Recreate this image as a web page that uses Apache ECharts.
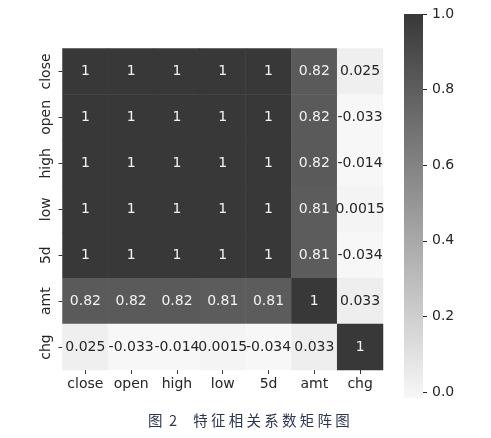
<!DOCTYPE html>
<html>
<head>
<meta charset="utf-8">
<script src="https://cdn.jsdelivr.net/npm/echarts@6/dist/echarts.min.js"></script>
<style>
  html, body { margin: 0; padding: 0; background: #fff; }
  #chart { width: 491px; height: 438px; }
</style>
</head>
<body>
<div id="chart"></div>
<script>
// feature names (same order on both axes)
var features = ["close", "open", "high", "low", "5d", "amt", "chg"];

// correlation matrix, one row per feature
var rowClose = [1, 1, 1, 1, 1, 0.82, 0.025];
var rowOpen  = [1, 1, 1, 1, 1, 0.82, -0.033];
var rowHigh  = [1, 1, 1, 1, 1, 0.82, -0.014];
var rowLow   = [1, 1, 1, 1, 1, 0.81, 0.0015];
var row5d    = [1, 1, 1, 1, 1, 0.81, -0.034];
var rowAmt   = [0.82, 0.82, 0.82, 0.81, 0.81, 1, 0.033];
var rowChg   = [0.025, -0.033, -0.014, 0.0015, -0.034, 0.033, 1];

// colorbar tick labels
var barTicks = [0.0, 0.2, 0.4, 0.6, 0.8, 1.0];

var lightColor = "#f7f7f7";
var darkColor = "#383838";

var rows = [rowClose, rowOpen, rowHigh, rowLow, row5d, rowAmt, rowChg];

var cells = [];
rows.forEach(function (row, y) {
  row.forEach(function (v, x) {
    cells.push({
      value: [x, y, v],
      label: { color: v > 0.5 ? "#f2f2f2" : "#262626" }
    });
  });
});

var myChart = echarts.init(document.getElementById("chart"));

var option = {
  backgroundColor: "#fff",
  animation: false,
  title: {
    text: "图  2     特 征 相 关 系 数 矩 阵 图",
    left: 148,
    top: 413,
    padding: 0,
    textStyle: {
      fontFamily: "Noto Sans CJK SC",
      fontSize: 14.5,
      fontWeight: "normal",
      color: "#2b3652"
    }
  },
  grid: [
    { left: 62.5, top: 48.5, width: 320.5, height: 321.5 },
    { left: 404, top: 14, width: 19, height: 378 }
  ],
  // colorbar body (visualMap itself is hidden)
  graphic: [
    {
      type: "rect",
      left: 404,
      top: 14,
      shape: { width: 19, height: 384 },
      style: {
        fill: new echarts.graphic.LinearGradient(0, 0, 0, 1, [
          { offset: 0, color: darkColor },
          { offset: 1, color: lightColor }
        ])
      },
      z: 0
    }
  ],
  xAxis: [
    {
      type: "category",
      gridIndex: 0,
      data: features,
      axisLine: { show: false },
      axisTick: { show: true, alignWithLabel: true, length: 4, lineStyle: { color: "#333" } },
      axisLabel: { interval: 0, color: "#262626", fontFamily: "DejaVu Sans", fontSize: 14, margin: 7 },
      splitLine: { show: false }
    },
    { type: "value", gridIndex: 1, show: false, min: 0, max: 1 }
  ],
  yAxis: [
    {
      type: "category",
      gridIndex: 0,
      inverse: true,
      data: features,
      axisLine: { show: false },
      axisTick: { show: true, alignWithLabel: true, length: 4, lineStyle: { color: "#333" } },
      axisLabel: { interval: 0, color: "#262626", fontFamily: "DejaVu Sans", fontSize: 14, rotate: 90, margin: 9 },
      splitLine: { show: false }
    },
    {
      type: "value",
      gridIndex: 1,
      position: "right",
      min: barTicks[0],
      max: barTicks[barTicks.length - 1],
      interval: 0.2,
      axisLine: { show: false, onZero: false },
      axisTick: { show: true, length: 4, lineStyle: { color: "#262626" } },
      axisLabel: {
        color: "#262626",
        fontFamily: "DejaVu Sans",
        fontSize: 14,
        margin: 9,
        formatter: function (v) { return v.toFixed(1); }
      },
      splitLine: { show: false }
    }
  ],
  visualMap: {
    type: "continuous",
    seriesIndex: 0,
    show: false,
    min: -0.016,
    max: 1,
    inRange: { color: [lightColor, darkColor] }
  },
  series: [
    {
      type: "heatmap",
      xAxisIndex: 0,
      yAxisIndex: 0,
      data: cells,
      label: {
        show: true,
        fontFamily: "DejaVu Sans",
        fontSize: 14,
        formatter: function (p) { return String(p.value[2]); }
      },
      itemStyle: { borderWidth: 0 },
      emphasis: { disabled: true }
    }
  ]
};

option && myChart.setOption(option);
</script>
</body>
</html>
